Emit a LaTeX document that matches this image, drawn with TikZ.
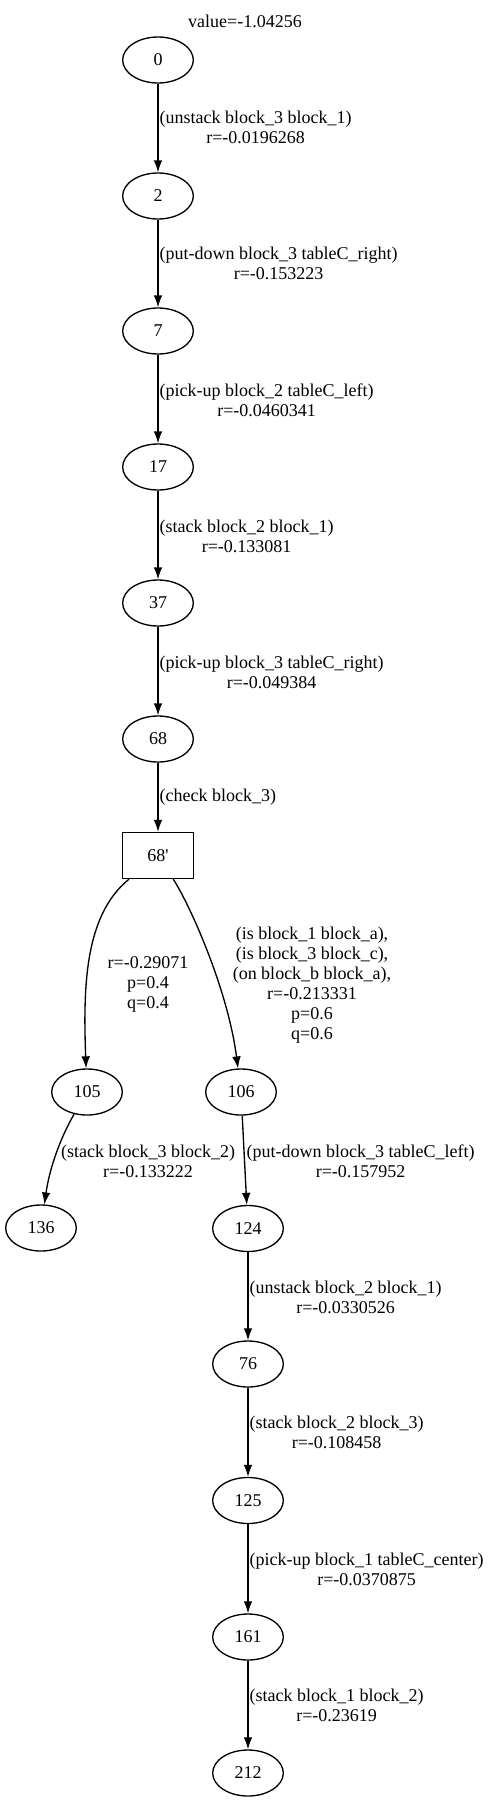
\documentclass[tikz,border=0pt]{standalone}
\usepackage{fontspec}
\setmainfont{Liberation Serif}
\usetikzlibrary{shapes.geometric,arrows.meta}

\tikzset{
  state/.style={draw,ellipse,minimum width=53pt,minimum height=34.5pt,inner sep=0pt},
  chance/.style={draw,rectangle,minimum width=53pt,minimum height=34.5pt,inner sep=0pt},
  elabel/.style={align=center,inner sep=0pt},
  wlabel/.style={elabel,anchor=west},
}

\begin{document}
\begin{tikzpicture}[>={Latex[length=9pt,width=6.5pt]},line join=bevel,x=0.75pt,y=-0.75pt,
  every node/.style={font=\fontsize{13.5}{15}\selectfont}]
  \pgfsetlinewidth{1bp}
  \useasboundingbox (0,0) rectangle (489,1803);
%%
  % Node: value
  \node (value) at (245,21) {value=-1.04256};
  % Node: 0
  \node[state] (n0) at (158,60) {0};
  % Node: 2
  \node[state] (n2) at (158,196) {2};
  % Node: 7
  \node[state] (n7) at (158,331) {7};
  % Node: 17
  \node[state] (n17) at (158,467) {17};
  % Node: 37
  \node[state] (n37) at (158,603) {37};
  % Node: 68
  \node[state] (n68) at (158,739) {68};
  % Node: 68'
  \node[chance] (n68p) at (158,855.5) {68\textquotesingle};
  % Node: 105
  \node[state] (n105) at (87,1092) {105};
  % Node: 106
  \node[state] (n106) at (241,1092) {106};
  % Node: 136
  \node[state] (n136) at (41,1228) {136};
  % Node: 124
  \node[state] (n124) at (248,1228.5) {124};
  % Node: 76
  \node[state] (n76) at (248,1364) {76};
  % Node: 125
  \node[state] (n125) at (248,1500.5) {125};
  % Node: 161
  \node[state] (n161) at (248,1637) {161};
  % Node: 212
  \node[state] (n212) at (248,1773) {212};
%
  % Edge: 0 -> 2
  \draw [->] (n0) -- (n2);
  \node[wlabel] (l0) at (159,127) {(unstack block\_3 block\_1)\\r=-0.0196268};
  % Edge: 2 -> 7
  \draw [->] (n2) -- (n7);
  \node[wlabel] (l2) at (159,263) {(put-down block\_3 tableC\_right)\\r=-0.153223};
  % Edge: 7 -> 17
  \draw [->] (n7) -- (n17);
  \node[wlabel] (l7) at (159,400) {(pick-up block\_2 tableC\_left)\\r=-0.0460341};
  % Edge: 17 -> 37
  \draw [->] (n17) -- (n37);
  \node[wlabel] (l17) at (159,536) {(stack block\_2 block\_1)\\r=-0.133081};
  % Edge: 37 -> 68
  \draw [->] (n37) -- (n68);
  \node[wlabel] (l37) at (159,672) {(pick-up block\_3 tableC\_right)\\r=-0.049384};
  % Edge: 68 -> 68'
  \draw [->] (n68) -- (n68p);
  \node[wlabel] (l68) at (159,797) {(check block\_3)};
  % Edge: 68' -> 105
  \draw [->] (n68p) .. controls (85,915) and (83,985) .. (n105);
  \node[elabel] (l68pa) at (148,984) {r=-0.29071\\p=0.4\\q=0.4};
  % Edge: 68' -> 106
  \draw [->] (n68p) .. controls (190,905) and (228,990) .. (n106);
  \node[elabel] (l68pb) at (312,985) {(is block\_1 block\_a),\\(is block\_3 block\_c),\\(on block\_b block\_a),\\r=-0.213331\\p=0.6\\q=0.6};
  % Edge: 105 -> 136
  \draw [->] (n105) .. controls (62,1135) and (50,1165) .. (n136);
  \node[elabel] (l105) at (148,1161) {(stack block\_3 block\_2)\\r=-0.133222};
  % Edge: 106 -> 124
  \draw [->] (n106) -- (n124);
  \node[wlabel] (l106) at (246,1161) {(put-down block\_3 tableC\_left)\\r=-0.157952};
  % Edge: 124 -> 76
  \draw [->] (n124) -- (n76);
  \node[wlabel] (l124) at (249,1297) {(unstack block\_2 block\_1)\\r=-0.0330526};
  % Edge: 76 -> 125
  \draw [->] (n76) -- (n125);
  \node[wlabel] (l76) at (249,1432) {(stack block\_2 block\_3)\\r=-0.108458};
  % Edge: 125 -> 161
  \draw [->] (n125) -- (n161);
  \node[wlabel] (l125) at (249,1569) {(pick-up block\_1 tableC\_center)\\r=-0.0370875};
  % Edge: 161 -> 212
  \draw [->] (n161) -- (n212);
  \node[wlabel] (l161) at (249,1705) {(stack block\_1 block\_2)\\r=-0.23619};
%
\end{tikzpicture}
\end{document}
